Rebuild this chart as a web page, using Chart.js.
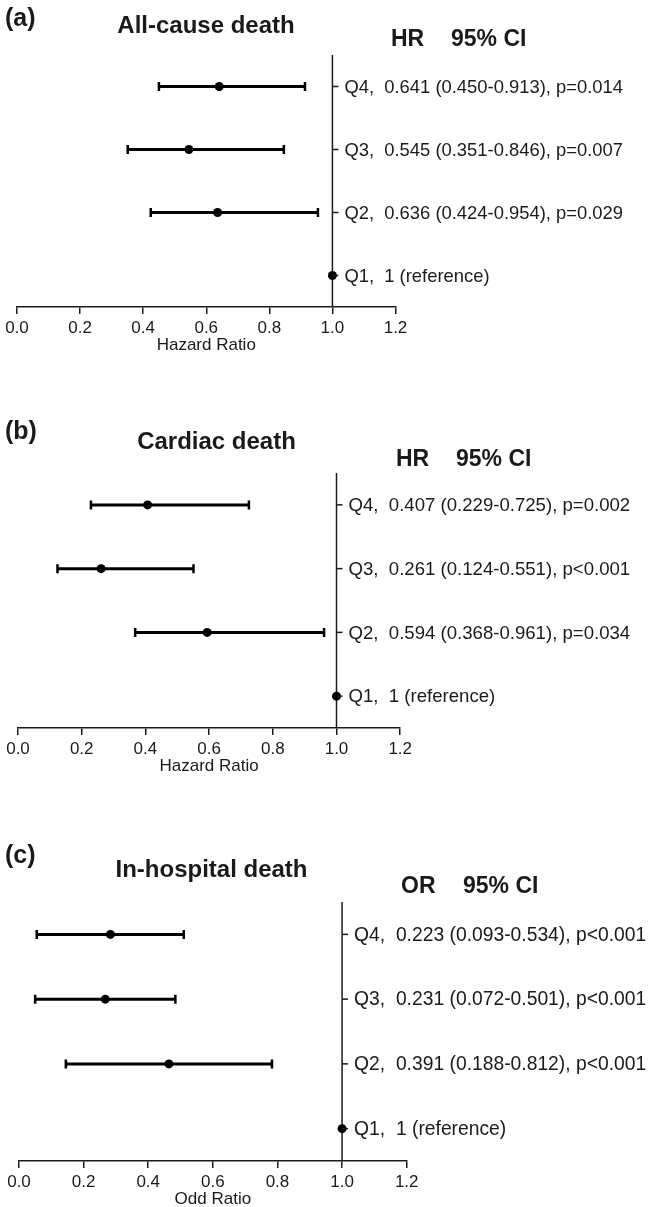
<!DOCTYPE html>
<html>
<head>
<meta charset="utf-8">
<script src="https://cdn.jsdelivr.net/npm/chart.js@4.4.1/dist/chart.umd.min.js"></script>
<style>
  html, body { margin: 0; padding: 0; background: #fff; width: 650px; height: 1207px; overflow: hidden; }
  canvas { position: absolute; left: 0; }
</style>
</head>
<body>
<canvas id="chartA" width="650" height="356" style="top:0px"></canvas>
<canvas id="chartB" width="650" height="397" style="top:380px"></canvas>
<canvas id="chartC" width="650" height="410" style="top:800px"></canvas>
<script>
const rows = ["Q4", "Q3", "Q2", "Q1"];
const rowPos = [0.5, 1.5, 2.5, 3.5];
const xTicks = [0, 0.2, 0.4, 0.6, 0.8, 1.0, 1.2];

// (a) all-cause death
const aHr = [0.641, 0.545, 0.636, 1];
const aLow = [0.450, 0.351, 0.424, null];
const aHigh = [0.913, 0.846, 0.954, null];
const aText = ["0.641 (0.450-0.913), p=0.014", "0.545 (0.351-0.846), p=0.007", "0.636 (0.424-0.954), p=0.029", "1 (reference)"];

// (b) cardiac death
const bHr = [0.407, 0.261, 0.594, 1];
const bLow = [0.229, 0.124, 0.368, null];
const bHigh = [0.725, 0.551, 0.961, null];
const bText = ["0.407 (0.229-0.725), p=0.002", "0.261 (0.124-0.551), p<0.001", "0.594 (0.368-0.961), p=0.034", "1 (reference)"];

// (c) in-hospital death (marks as drawn in the figure)
const cHr = [0.283, 0.267, 0.464, 1];
const cLow = [0.055, 0.050, 0.145, null];
const cHigh = [0.510, 0.484, 0.783, null];
const cText = ["0.223 (0.093-0.534), p<0.001", "0.231 (0.072-0.501), p<0.001", "0.391 (0.188-0.812), p<0.001", "1 (reference)"];

const FAM = '"Liberation Sans", Arial, sans-serif';
const INK = '#1a1a1a';

const headerPlugin = {
  id: 'header',
  afterDraw(chart, args, o) {
    const ctx = chart.ctx;
    const xs = chart.scales.x, ys = chart.scales.y;
    ctx.save();
    ctx.fillStyle = INK;
    ctx.textBaseline = 'alphabetic';
    ctx.textAlign = 'left';
    ctx.font = 'bold 25px ' + FAM;
    ctx.fillText(o.tag, 5, o.tagY);
    ctx.textAlign = 'center';
    ctx.font = 'bold 24px ' + FAM;
    ctx.fillText(o.title, o.titleX, o.titleY);
    ctx.textAlign = 'left';
    ctx.font = 'bold 23px ' + FAM;
    ctx.fillText(o.effect, o.effX, o.effY);
    ctx.fillText('95% CI', o.ciX, o.effY);

    // row ticks + labels on the reference line
    const x0 = xs.getPixelForValue(1);
    ctx.strokeStyle = INK;
    ctx.lineWidth = 1.5;
    ctx.font = o.rowSize + 'px ' + FAM;
    ctx.textBaseline = 'middle';
    rows.forEach((r, i) => {
      const y = ys.getPixelForValue(rowPos[i]);
      ctx.beginPath();
      ctx.moveTo(x0, y);
      ctx.lineTo(x0 + 6, y);
      ctx.stroke();
      ctx.fillText(r + ',  ' + o.text[i], x0 + 12, y + 1);
    });
    ctx.restore();
  }
};

function forest(id, hr, low, high, text, cfg) {
  const ciSets = rows.map((r, i) => low[i] == null ? null : {
    data: [{x: low[i], y: rowPos[i]}, {x: high[i], y: rowPos[i]}],
    showLine: true,
    borderColor: '#000',
    borderWidth: 3,
    pointStyle: 'line',
    rotation: 90,
    pointRadius: 4.5,
    pointBorderWidth: 2.5,
    pointBorderColor: '#000',
    order: 2
  }).filter(d => d);

  new Chart(document.getElementById(id), {
    type: 'scatter',
    data: {
      datasets: [
        {
          data: [{x: 1, y: 0}, {x: 1, y: 4}],
          showLine: true,
          borderColor: INK,
          borderWidth: 1.5,
          pointRadius: 0,
          order: 3
        },
        ...ciSets,
        {
          data: hr.map((v, i) => ({x: v, y: rowPos[i]})),
          pointRadius: 4.5,
          backgroundColor: '#000',
          borderWidth: 0,
          order: 1
        }
      ]
    },
    options: {
      responsive: false,
      animation: false,
      layout: { padding: { top: cfg.top, left: cfg.left, right: cfg.right, bottom: 0 } },
      plugins: {
        legend: { display: false },
        tooltip: { enabled: false },
        header: cfg.header
      },
      scales: {
        x: {
          type: 'linear',
          min: 0,
          max: 1.2,
          afterBuildTicks: s => { s.ticks = xTicks.map(v => ({value: v})); },
          afterFit: s => { s.height = 49; },
          ticks: {
            callback: v => v.toFixed(1),
            font: { size: 17, family: FAM },
            color: INK,
            padding: 4,
            maxRotation: 0,
            autoSkip: false
          },
          grid: { display: true, drawOnChartArea: false, drawTicks: true, tickLength: 7, color: INK, lineWidth: 1.5 },
          border: { display: true, color: INK, width: 1.5 },
          title: { display: true, text: cfg.axisTitle, font: { size: 17, family: FAM }, color: INK, padding: 0 }
        },
        y: { type: 'linear', min: 0, max: 4, reverse: true, display: false }
      }
    },
    plugins: [headerPlugin]
  });
}

forest('chartA', aHr, aLow, aHigh, aText, {
  top: 55, left: 17, right: 254.5, axisTitle: 'Hazard Ratio',
  header: { tag: '(a)', tagY: 26, title: 'All-cause death', titleX: 206, titleY: 33,
            effect: 'HR', effX: 391, ciX: 451, effY: 46, text: aText, rowSize: 18.4 }
});
forest('chartB', bHr, bLow, bHigh, bText, {
  top: 93, left: 18, right: 249.8, axisTitle: 'Hazard Ratio',
  header: { tag: '(b)', tagY: 59, title: 'Cardiac death', titleX: 216.5, titleY: 69,
            effect: 'HR', effX: 396, ciX: 456, effY: 86, text: bText, rowSize: 18.6 }
});
forest('chartC', cHr, cLow, cHigh, cText, {
  top: 102, left: 19, right: 243.3, axisTitle: 'Odd Ratio',
  header: { tag: '(c)', tagY: 63, title: 'In-hospital death', titleX: 211.5, titleY: 77,
            effect: 'OR', effX: 401, ciX: 463, effY: 93, text: cText, rowSize: 19.3 }
});
</script>
</body>
</html>
